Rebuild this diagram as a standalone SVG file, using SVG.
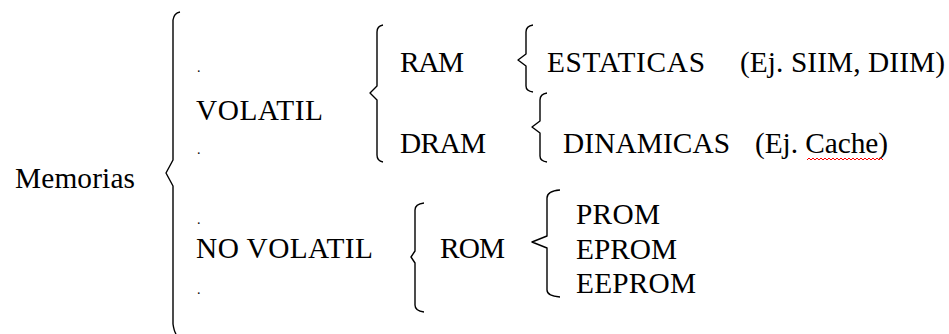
<svg xmlns="http://www.w3.org/2000/svg" width="949" height="334" viewBox="0 0 949 334">
<style>
.brace { fill: none; stroke: #000; stroke-width: 1.4; stroke-linejoin: round; }
.squig { fill: none; stroke: #ff0000; stroke-width: 1; }
</style>
<rect width="949" height="334" fill="#fff"/>
<g id="connectors">
<path class="brace" d="M180,12 Q174,13 173,20 L173,160 L166,173 L173,186 L173,324 Q174,331 176,334"/>
<path class="brace" d="M383,25 Q377,26 377,32 L377,86 L370,93 L377,100 L377,155 Q377,161 383,162"/>
<path class="brace" d="M533,25 Q526,26 526,32 L526,54 L518,60 L526,66 L526,86 Q526,91 533,92"/>
<path class="brace" d="M547,93 Q540,94 540,100 L540,121 L532,127 L540,133 L540,156 Q540,161 547,162"/>
<path class="brace" d="M424,203 Q415,204 415,210 L415,251 L411,257 L415,263 L415,305 Q415,311 424,312"/>
<path class="brace" d="M560,190 Q547,191 547,198 L547,236 L532,242 L547,248 L547,290 Q547,296 560,297"/>
</g>
<g id="memorias"><text font-family="Liberation Serif" font-size="29.33" x="15" y="188" textLength="120">Memorias</text></g>
<g id="volatil">
<text font-family="Liberation Serif" font-size="14" x="197" y="72">.</text>
<text font-family="Liberation Serif" font-size="29.33" x="196" y="120" textLength="127">VOLATIL</text>
<text font-family="Liberation Serif" font-size="14" x="197" y="154">.</text>
</g>
<g id="no-volatil">
<text font-family="Liberation Serif" font-size="14" x="197" y="224">.</text>
<text font-family="Liberation Serif" font-size="29.33" x="196" y="258" textLength="177">NO VOLATIL</text>
<text font-family="Liberation Serif" font-size="14" x="197" y="294">.</text>
</g>
<g id="ram"><text font-family="Liberation Serif" font-size="29.33" x="400" y="72" textLength="64">RAM</text></g>
<g id="dram"><text font-family="Liberation Serif" font-size="29.33" x="400" y="153" textLength="86">DRAM</text></g>
<g id="estaticas"><text font-family="Liberation Serif" font-size="29.33" x="547" y="72" textLength="158">ESTATICAS</text><text font-family="Liberation Serif" font-size="29.33" x="740" y="72" textLength="205">(Ej. SIIM, DIIM)</text></g>
<g id="dinamicas"><text font-family="Liberation Serif" font-size="29.33" x="563" y="153" textLength="167">DINAMICAS</text><text font-family="Liberation Serif" font-size="29.33" x="755" y="153" textLength="133">(Ej. Cache)</text>
<path class="squig" d="M807,160 l2,-2 l2,2 l2,-2 l2,2 l2,-2 l2,2 l2,-2 l2,2 l2,-2 l2,2 l2,-2 l2,2 l2,-2 l2,2 l2,-2 l2,2 l2,-2 l2,2 l2,-2 l2,2 l2,-2 l2,2 l2,-2 l2,2 l2,-2 l2,2 l2,-2 l2,2 l2,-2 l2,2 l2,-2 l2,2 l2,-2 l2,2 l2,-2 l2,2 l2,-2 l2,2"/>
</g>
<g id="rom"><text font-family="Liberation Serif" font-size="29.33" x="440" y="258" textLength="65">ROM</text></g>
<g id="prom"><text font-family="Liberation Serif" font-size="29.33" x="576" y="224" textLength="84">PROM</text></g>
<g id="eprom"><text font-family="Liberation Serif" font-size="29.33" x="576" y="259" textLength="101">EPROM</text></g>
<g id="eeprom"><text font-family="Liberation Serif" font-size="29.33" x="576" y="293" textLength="120">EEPROM</text></g>
</svg>
